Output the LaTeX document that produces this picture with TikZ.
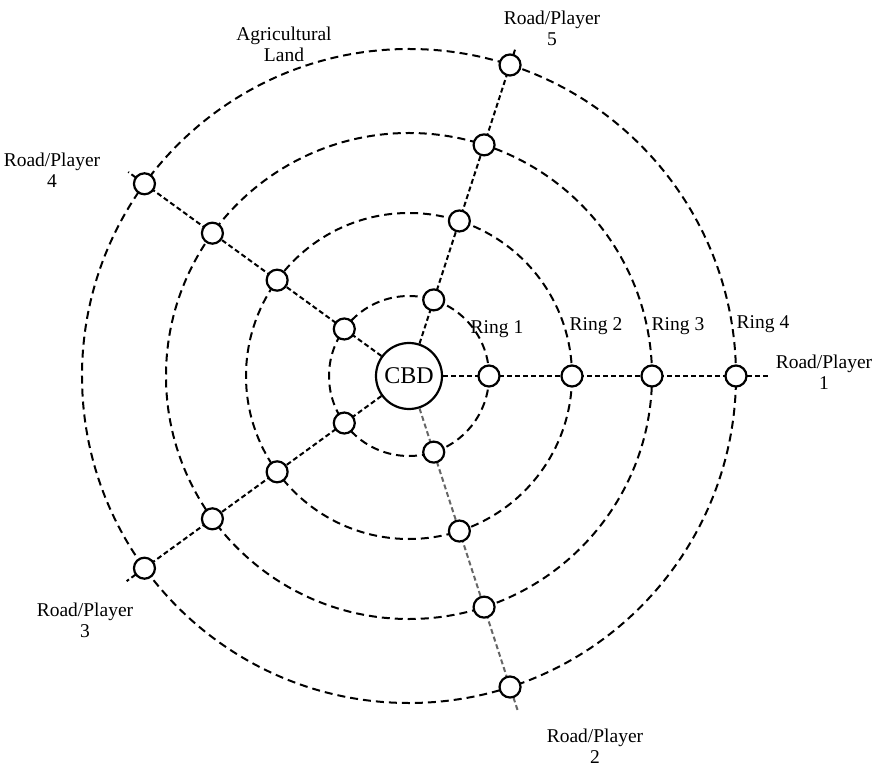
\documentclass[tikz,border=0pt]{standalone}
\usepackage{fontspec}
\setmainfont{Liberation Serif}
\tikzset{
  ring/.style={dash pattern=on 8pt off 5pt, line width=2pt},
  road/.style={dash pattern=on 5pt off 3pt, line width=2pt},
  junction/.style={circle, draw, line width=2.2pt, fill=white, minimum size=21pt, inner sep=0pt},
  hub/.style={circle, draw, line width=2.2pt, fill=white, minimum size=66pt, inner sep=0pt, font=\fontsize{24}{26}\selectfont},
  lbl/.style={align=center, font=\fontsize{19.5}{21}\selectfont}
}
\begin{document}
\begin{tikzpicture}[x=1pt,y=1pt]
  \useasboundingbox (-409,-392) rectangle (484,376);
  % rings
  \foreach \rad in {80,163,243,327}
    \draw[ring] (0,0) circle (\rad);
  \node[hub] (cbd) at (0,0) {CBD};
  % roads
  \foreach \k/\a/\len/\col in {1/0/359/black, 2/288/352/black!60, 3/216/349/black, 4/144/347/black, 5/72/345/black}{
    \coordinate (e\k) at (\a:\len);
    \draw[road, draw=\col] (cbd.\a) -- (e\k);
  }
  % junctions
  \foreach \k/\a in {1/0, 2/288, 3/216, 4/144, 5/72}
    \foreach \r/\rad in {1/80, 2/163, 3/243, 4/327}
      \node[junction] (n\r\k) at (\a:\rad) {};
  % labels
  \node[lbl] (ring1) at (88,47) {Ring 1};
  \node[lbl] (ring2) at (187,50) {Ring 2};
  \node[lbl] (ring3) at (269,50) {Ring 3};
  \node[lbl] (ring4) at (354,52) {Ring 4};
  \node[lbl] (p1) at (415,4) {Road/Player\\1};
  \node[lbl] (p2) at (186,-370) {Road/Player\\2};
  \node[lbl] (p3) at (-324,-244) {Road/Player\\3};
  \node[lbl] (p4) at (-357,206) {Road/Player\\4};
  \node[lbl] (p5) at (143,348) {Road/Player\\5};
  \node[lbl] (agri) at (-125,332) {Agricultural\\Land};
\end{tikzpicture}
\end{document}
